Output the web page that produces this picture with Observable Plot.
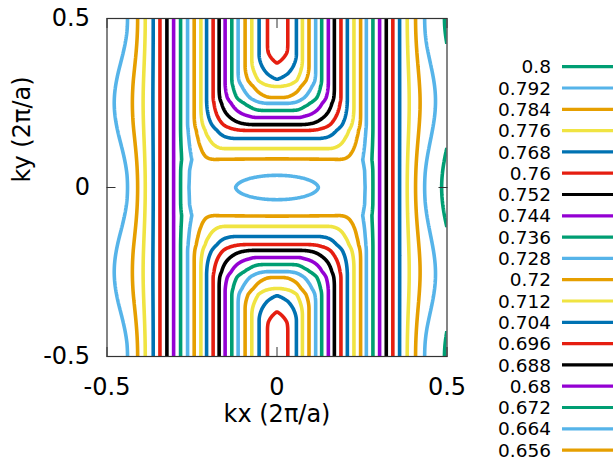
<!DOCTYPE html>
<html>
<head>
<meta charset="utf-8">
<script src="https://cdn.jsdelivr.net/npm/d3@7"></script>
<script src="https://cdn.jsdelivr.net/npm/@observablehq/plot@0.6"></script>
<style>
  html, body { margin: 0; padding: 0; background: #fff; }
  #wrap { position: relative; width: 613px; height: 457px; overflow: hidden; font-family: "DejaVu Sans", sans-serif; }
  #wrap svg { position: absolute; left: 0; top: 0; }
</style>
</head>
<body>
<div id="wrap"></div>
<script>
// ---------------- data ----------------
// contour levels, in legend order
const levels = [0.8, 0.792, 0.784, 0.776, 0.768, 0.76, 0.752, 0.744, 0.736, 0.728, 0.72,
                0.712, 0.704, 0.696, 0.688, 0.68, 0.672, 0.664, 0.656, 0.648, 0.64, 0.632];
// number of key entries visible in the window
const keyRows = 19;
// gnuplot default line-colour cycle
const palette = ["#009E73", "#56B4E9", "#E69F00", "#F0E442", "#0072B2", "#E51E10", "#000000", "#9400D3"];
// kx where levels 0.792 … 0.632 cross the ky = ±0.5 edge (left and right half)
const leftEdgeKx  = [-0.4392, -0.4098, -0.3875, -0.3640, -0.3443, -0.3238, -0.3041, -0.2836, -0.2630, -0.2436,
                     -0.2239, -0.2072, -0.1878, -0.1702, -0.1526, -0.1329, -0.1144, -0.0938, -0.0742, -0.0527, -0.028];
const rightEdgeKx = [0.4339, 0.4075, 0.3830, 0.3605, 0.3407, 0.3214, 0.3018, 0.2821, 0.2627, 0.2460,
                     0.2263, 0.2069, 0.1881, 0.1687, 0.1511, 0.1314, 0.1138, 0.0941, 0.0747, 0.0571, 0.032];
// ky where levels 0.72 … 0.632 cross the kx = 0 line
const axisKy = [0.083, 0.115, 0.145, 0.169, 0.186, 0.207, 0.228, 0.249, 0.266, 0.299, 0.317, 0.36];
// estimated values of the surface at profile ends
const edgeMin = 0.6255;          // E at kx = 0 along the ky = ±0.5 edge
const leftEdgeMax = 0.7995;      // E at kx = -0.5
const rightEdgeMax = 0.8025;     // E at kx = +0.5
const axisCentre = 0.7215;       // background E at the centre
const axisTop = 0.61;            // E along kx = 0 at ky = ±0.5
const centreBump = 0.0135;       // small maximum at the centre (the closed 0.728 ring)
const bumpWidth = [0.1427, 0.0452];
const ridgeKx = [0.36, 0.39, 0.423, 0.466, 0.5];     // wiggle of the outer lines
const ridgeAmp = [0, 0.002, 0.0042, 0.0048, 0.005];
// rounding of the U-shaped corners, by |ky| and by |kx|
const roundKy = [0, 0.05, 0.1, 0.17, 0.25, 0.32, 0.4, 0.5];
const roundAmt = [0.014, 0.018, 0.03, 0.042, 0.045, 0.034, 0.014, 0.01];
const roundKx = [0, 0.08], roundScale = [0.6, 1];

// tick values and labels
const xTicks = [-0.5, 0, 0.5], xTickLabels = ["-0.5", "0", "0.5"];
const yTicks = [-0.5, 0, 0.5], yTickLabels = ["-0.5", "0", "0.5"];
const xLabel = "kx (2π/a)", yLabel = "ky (2π/a)";

// ---------------- surface built from the profiles ----------------
const lower = levels.slice(1);
const Fright = d3.scaleLinear()
  .domain([0, ...rightEdgeKx.slice().reverse(), 0.5])
  .range([edgeMin, ...lower.slice().reverse(), rightEdgeMax]).clamp(true);
const Fleft = d3.scaleLinear()
  .domain([0, ...leftEdgeKx.map(v => -v).reverse(), 0.5])
  .range([edgeMin, ...lower.slice().reverse(), leftEdgeMax]).clamp(true);
const G = d3.scaleLinear()
  .domain([0, ...axisKy, 0.5])
  .range([axisCentre, ...levels.slice(10), axisTop]).clamp(true);
const ridge = d3.scaleLinear().domain(ridgeKx).range(ridgeAmp).clamp(true);
const rightDip = d3.scaleLinear().domain([0.44, 0.5]).range([0, 0.0015]).clamp(true);
const roundingY = d3.scaleLinear().domain(roundKy).range(roundAmt).clamp(true);
const roundingX = d3.scaleLinear().domain(roundKx).range(roundScale).clamp(true);

function smoothMax(a, b, k) {
  const h = Math.max(k - Math.abs(a - b), 0);
  return Math.max(a, b) + h * h / (4 * k);
}

function surface(kx, ky) {
  const ax = Math.abs(kx) > 0.5 ? 1 - Math.abs(kx) : Math.abs(kx);   // mirror beyond the zone edge
  const ay = Math.abs(ky) > 0.5 ? 1 - Math.abs(ky) : Math.abs(ky);
  const s2 = Math.sin(2 * Math.PI * ay) ** 2;
  let f = (kx >= 0 ? Fright(ax) : Fleft(ax)) - ridge(ax) * s2;
  if (kx >= 0) f -= rightDip(ax) * Math.sin(Math.PI * ay) ** 2;
  const g = G(ay) + centreBump * Math.exp(-((kx / bumpWidth[0]) ** 2) - ((ky / bumpWidth[1]) ** 2));
  return smoothMax(f, g, roundingY(ay) * roundingX(ax));
}

const ext = 0.53, N = 400;
const grid = new Float64Array(N * N);
for (let j = 0; j < N; j++) {
  const ky = -ext + (j + 0.5) * (2 * ext) / N;
  for (let i = 0; i < N; i++) {
    const kx = -ext + (i + 0.5) * (2 * ext) / N;
    grid[i + j * N] = surface(kx, ky);
  }
}

// ---------------- chart ----------------
const fmtX = d => xTickLabels[xTicks.indexOf(d)];
const fmtY = d => yTickLabels[yTicks.indexOf(d)];
const chart = Plot.plot({
  width: 613, height: 457,
  marginLeft: 106.5, marginRight: 166.5, marginTop: 18, marginBottom: 101,
  x: {domain: [-0.5, 0.5]},
  y: {domain: [-0.5, 0.5]},
  style: {fontFamily: "DejaVu Sans, sans-serif", background: "transparent", color: "#000", overflow: "visible"},
  marks: [
    ...levels.map((L, i) => Plot.contour(grid, {
      width: N, height: N, x1: -ext, x2: ext, y1: -ext, y2: ext,
      value: Plot.identity, thresholds: [L],
      fill: "none", stroke: palette[i % palette.length], strokeWidth: 3.6,
      clip: true
    })),
    Plot.frame({stroke: "#333", strokeWidth: 1.2}),
    Plot.axisX(xTicks, {anchor: "bottom", tickSize: -9, tickFormat: () => "", stroke: "#333"}),
    Plot.axisX(xTicks, {anchor: "top", tickSize: -9, tickFormat: () => "", stroke: "#333"}),
    Plot.axisY(yTicks, {anchor: "left", tickSize: -9, tickFormat: () => "", stroke: "#333"}),
    Plot.axisY(yTicks, {anchor: "right", tickSize: -9, tickFormat: () => "", stroke: "#333"}),
    Plot.axisX(xTicks, {anchor: "bottom", tickSize: 0, tickPadding: 21, tickFormat: fmtX, fontSize: 24, label: null}),
    Plot.axisY(yTicks, {anchor: "left", tickSize: 0, tickPadding: 17, tickFormat: fmtY, fontSize: 24, label: null}),
    Plot.text([xLabel], {frameAnchor: "bottom", dy: 65, text: d => d, fontSize: 24}),
    Plot.text([yLabel], {frameAnchor: "left", dx: -85, dy: -5, rotate: -90, text: d => d, fontSize: 24})
  ]
});
const wrap = document.getElementById("wrap");
wrap.appendChild(chart);

// ---------------- key (right of the plot, as in gnuplot) ----------------
const key = d3.select(wrap).append("svg")
  .attr("width", 613).attr("height", 457)
  .style("font-family", "DejaVu Sans, sans-serif");
const row = key.selectAll("g").data(levels.slice(0, keyRows)).join("g")
  .attr("transform", (d, i) => `translate(0,${66.7 + 21.3 * i})`);
row.append("text").attr("x", 551).attr("dy", "0.36em").attr("text-anchor", "end")
  .attr("font-size", 18.5).attr("fill", "#000").text(d => String(d));
row.append("line").attr("x1", 562).attr("x2", 640)
  .attr("stroke", (d, i) => palette[i % palette.length]).attr("stroke-width", 3.2);
</script>
</body>
</html>
